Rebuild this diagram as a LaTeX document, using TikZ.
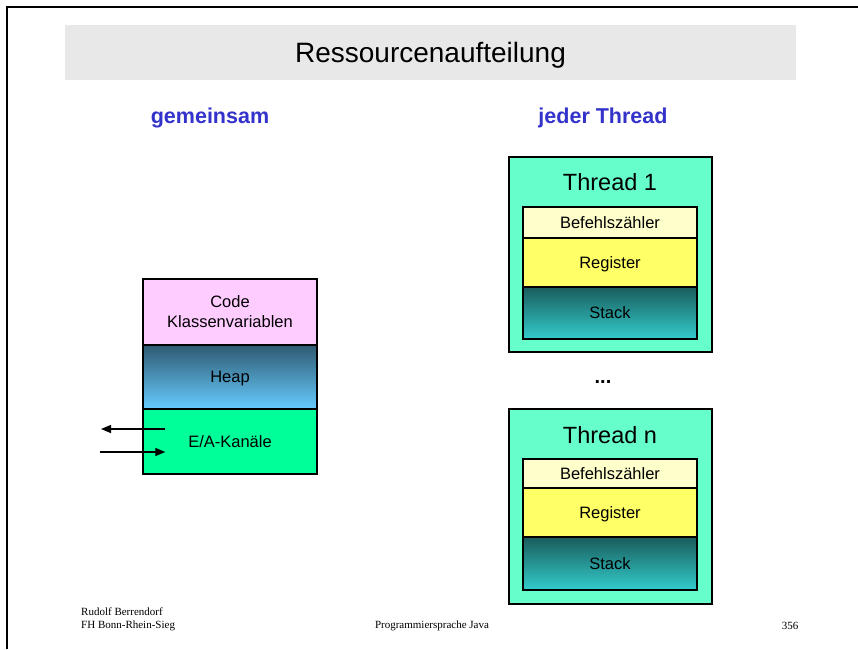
\documentclass[tikz,border=0pt]{standalone}
\usepackage{fontspec}
\setmainfont{Liberation Sans}
\newfontfamily\footfont{Liberation Serif}
\usetikzlibrary{arrows.meta}
\definecolor{bandgray}{HTML}{E8E8E8}
\definecolor{headblue}{HTML}{3333CC}
\definecolor{codepink}{HTML}{FFCCFF}
\definecolor{heaptop}{HTML}{2F5A72}
\definecolor{heapbot}{HTML}{66CCFF}
\definecolor{eagreen}{HTML}{00FF99}
\definecolor{threadgreen}{HTML}{66FFCC}
\definecolor{pcyellow}{HTML}{FFFFCC}
\definecolor{regyellow}{HTML}{FFFF66}
\definecolor{stacktop}{HTML}{1A5C5C}
\definecolor{stackbot}{HTML}{33CCCC}
\tikzset{
  box/.style={draw=black, line width=1.4pt, inner sep=0pt, anchor=center, align=center, font=\fontsize{16.5}{20}\selectfont},
  onebox/.style={box, text depth=0pt},
  outerbox/.style={draw=black, line width=1.4pt, fill=threadgreen, inner sep=0pt},
  head/.style={text=headblue, font=\fontsize{21.5}{25}\selectfont\bfseries},
  ttitle/.style={font=\fontsize{23.5}{27}\selectfont},
  foot/.style={font=\footfont\fontsize{11}{13}\selectfont, inner sep=0pt},
  io/.style={line width=1.3pt, -{Triangle[length=10pt,width=8pt]}}
}
\begin{document}
\begin{tikzpicture}[x=1pt,y=-1pt]
\useasboundingbox (0,0) rectangle (858,649);
% page frame
\draw[line width=2pt] (7,649) -- (7,7) -- (858,7);
% title band
\node[fill=bandgray, minimum width=731, minimum height=55, inner sep=0pt, text depth=0pt, font=\fontsize{28}{33}\selectfont] (title) at (430.5,52.5) {Ressourcenaufteilung};
% headings
\node[head] (hgem) at (210,118) {gemeinsam};
\node[head] (hjed) at (603,118) {jeder Thread};
% shared stack
\node[box, fill=codepink, minimum width=174, minimum height=66] (code) at (230,312) {Code\\Klassenvariablen};
\node[onebox, top color=heaptop, bottom color=heapbot, minimum width=174, minimum height=64] (heap) at (230,377) {Heap};
\node[onebox, fill=eagreen, minimum width=174, minimum height=65] (ea) at (230,441.5) {E/A-Kanäle};
% arrows
\coordinate (aout) at (101,429);
\coordinate (ain) at (100,452);
\draw[io] (ea.west |- aout) ++(23,0) -- (aout);
\draw[io] (ain) -- ([xshift=23pt]ea.west |- ain);
% thread 1
\node[outerbox, minimum width=203, minimum height=195] (t1) at (610.5,254.5) {};
\node[ttitle] (t1title) at (610,182) {Thread 1};
\node[onebox, fill=pcyellow, minimum width=174, minimum height=31] (t1pc) at (610,222.5) {Befehlszähler};
\node[onebox, fill=regyellow, minimum width=174, minimum height=49] (t1reg) at (610,262.5) {Register};
\node[onebox, top color=stacktop, bottom color=stackbot, minimum width=174, minimum height=52] (t1st) at (610,313) {Stack};
% dots
\node[font=\fontsize{20}{24}\selectfont\bfseries] (dots) at (603,382) {...};
% thread n
\node[outerbox, minimum width=203, minimum height=195] (tn) at (610.5,506.5) {};
\node[ttitle] (tntitle) at (610,435) {Thread n};
\node[onebox, fill=pcyellow, minimum width=174, minimum height=29] (tnpc) at (610,473.5) {Befehlszähler};
\node[onebox, fill=regyellow, minimum width=174, minimum height=49] (tnreg) at (610,512.5) {Register};
\node[onebox, top color=stacktop, bottom color=stackbot, minimum width=174, minimum height=53] (tnst) at (610,563.5) {Stack};
% footer
\node[foot, anchor=west] (fa) at (81,612) {Rudolf Berrendorf};
\node[foot, anchor=west] (fb) at (81,626) {FH Bonn-Rhein-Sieg};
\node[foot] (fc) at (432,626) {Programmiersprache Java};
\node[foot] (fd) at (790,626) {356};
\end{tikzpicture}
\end{document}
